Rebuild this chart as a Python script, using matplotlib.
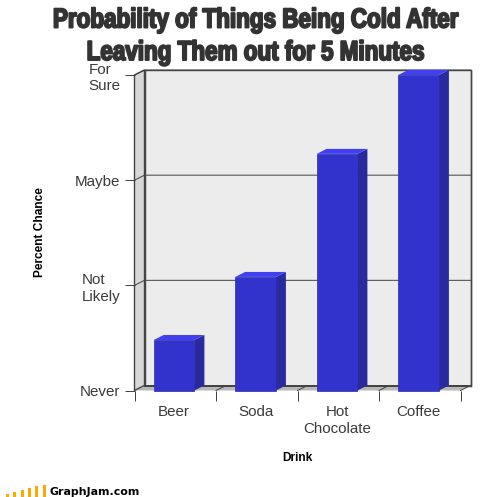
import matplotlib
matplotlib.use('Agg')
import matplotlib.pyplot as plt
import matplotlib.patheffects as pe
from matplotlib.patches import Polygon, Rectangle
from matplotlib.transforms import Affine2D

plt.rcParams['font.family'] = ['Liberation Sans', 'DejaVu Sans']

categories = ['Beer', 'Soda', 'Hot\nChocolate', 'Coffee']
values = [0.48, 1.08, 2.25, 3.0]
y_ticks = [0, 1, 2, 3]
y_labels = ['Never', 'Not\nLikely', 'Maybe', 'For\nSure']
title_lines = ['Probability of Things Being Cold After', 'Leaving Them out for 5 Minutes']
logo_heights = [3, 5, 7, 9, 11, 12]

W, H = 504, 497
TEXT = '#3a3a3a'
LINE = '#444444'
PX = 0.72  # one pixel in points


class Squeeze(pe.AbstractPathEffect):
    # narrows the text around its centre, Impact is not installed
    def __init__(self, cx, sx, stroke, color):
        super().__init__()
        self.cx, self.sx, self.stroke, self.color = cx, sx, stroke, color

    def draw_path(self, renderer, gc, tpath, affine, rgbFace=None):
        a = affine + Affine2D().translate(-self.cx, 0).scale(self.sx, 1).translate(self.cx, 0)
        gc0 = renderer.new_gc()
        gc0.copy_properties(gc)
        gc0.set_linewidth(self.stroke)
        gc0.set_foreground(self.color)
        renderer.draw_path(gc0, tpath, a, rgbFace)
        gc0.restore()


def poly(ax, pts, color, z, edge='none', lw=0):
    ax.add_patch(Polygon(pts, closed=True, facecolor=color, edgecolor=edge, lw=lw, zorder=z, clip_on=False))


def main():
    fig = plt.figure(figsize=(W / 100, H / 100), dpi=100)
    ax = fig.add_axes([134.5 / W, (H - 390.5) / H, 326 / W, 315.5 / H])
    ax.set_xlim(0, 4)
    ax.set_ylim(0, 3)
    ax.patch.set_visible(False)
    for s in ax.spines.values():
        s.set_visible(False)

    # depth of the fake 3d box, in data units
    dx = 10 / 81.5
    dy = 5 / 105.17
    ymax = 3 + dy

    poly(ax, [(dx, dy), (4 + dx, dy), (4 + dx, ymax), (dx, ymax)], '#ececec', 1, LINE, 1.4 * PX)
    poly(ax, [(0, 0), (dx, dy), (dx, ymax), (0, 3)], '#d8d8d8', 1, LINE, 1.4 * PX)
    poly(ax, [(0, 0), (4, 0), (4 + dx, dy), (dx, dy)], '#b8b8b8', 2)
    ax.plot([dx, 4 + dx], [dy, dy], color=LINE, lw=2 * PX, zorder=3, clip_on=False)
    ax.plot([4 + dx, 4 + dx], [dy, ymax], color=LINE, lw=1.4 * PX, zorder=3, clip_on=False)

    # grid lines run along the left wall then across the back
    for t in y_ticks[1:]:
        ax.plot([0, dx, 4 + dx], [t, t + dy, t + dy], color=LINE, lw=PX, zorder=3, clip_on=False)
    for t in range(5):
        ax.plot([t, t + dx], [0, dy], color=LINE, lw=PX, zorder=3, clip_on=False)

    width = 0.5
    for i, v in enumerate(values):
        x0 = i + 0.485 - width / 2
        x1 = x0 + width
        ax.add_patch(Rectangle((x0, 0), width, v, facecolor='#3232cc', edgecolor='#2a2aa8', lw=0.5, zorder=6, clip_on=False))
        poly(ax, [(x1, 0), (x1 + dx, dy), (x1 + dx, v + dy), (x1, v)], '#2a2a9e', 5)
        poly(ax, [(x0, v), (x0 + dx, v + dy), (x1 + dx, v + dy), (x1, v)], '#4040f0', 5)

    ax.set_yticks(y_ticks)
    ax.set_yticklabels(y_labels, fontsize=10.9, color=TEXT, linespacing=1.27)
    for t in ax.get_yticklabels():
        t.set_multialignment('left')
    ax.tick_params(axis='y', length=10 * PX, width=PX, color=LINE, pad=3)

    ax.set_xticks(range(5))
    ax.set_xticklabels([])
    ax.set_xticks([i + 0.485 for i in range(len(categories))], minor=True)
    ax.set_xticklabels(categories, minor=True, fontsize=10.9, color=TEXT, linespacing=1.27)
    ax.tick_params(axis='x', which='major', length=10 * PX, width=PX, color=LINE)
    ax.tick_params(axis='x', which='minor', length=0, pad=10.5)

    fig.text(40 / W, 1 - 232 / H, 'Percent Chance', rotation=90, fontsize=8.6, fontweight='bold',
             color='black', ha='center', va='center')
    fig.text(297 / W, 1 - 458 / H, 'Drink', fontsize=8.6, fontweight='bold', color='black', ha='center', va='center')

    for line, base in zip(title_lines, [27.5, 60]):
        fig.text(256 / W, 1 - base / H, line, fontsize=19.7, fontweight='bold', color='#333333', ha='center',
                 va='baseline', zorder=20, path_effects=[Squeeze(256, 0.82, 1.4, '#333333')])

    # logo bottom left
    for i, h in enumerate(logo_heights):
        fig.add_artist(Rectangle(((6 + i * 7.3) / W, 0), 3 / W, h / H, facecolor='#ffa800', edgecolor='none',
                                 transform=fig.transFigure))
    fig.text(49 / W, 1 - 495 / H, 'GraphJam.com', fontsize=7.9, fontweight='bold', color='black', ha='left',
             va='baseline', family=['DejaVu Sans'])

    fig.savefig('out.png', dpi=100)


if __name__ == '__main__':
    main()
